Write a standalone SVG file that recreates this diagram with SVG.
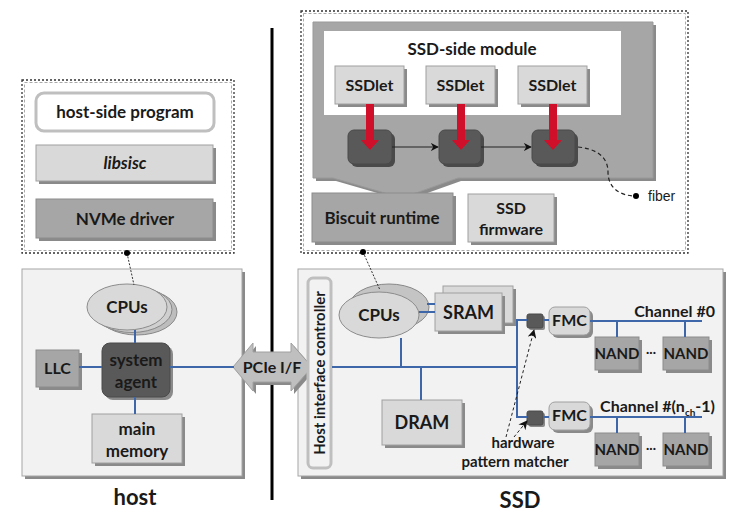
<svg xmlns="http://www.w3.org/2000/svg" width="744" height="520" viewBox="0 0 744 520">
<defs>
<style>
text{font-family:Lato,"Open Sans","Liberation Sans",sans-serif;font-weight:bold;fill:#1a1a1a;text-anchor:middle}
.sh{fill:#8a8a8a}
.lg{fill:#d9d9d9;stroke:#a0a0a0;stroke-width:1}
.mg{fill:#a6a6a6;stroke:#8c8c8c;stroke-width:1}
.dg{fill:#595959;stroke:#4a4a4a;stroke-width:1}
.bl{stroke:#3d67a8;stroke-width:2;fill:none}
.dot{fill:none;stroke:#333;stroke-width:1.3;stroke-dasharray:2 2}
.dot2{fill:none;stroke:#aaa;stroke-width:1;stroke-dasharray:3 2}
</style>
<marker id="ah" viewBox="0 0 10 10" refX="9" refY="5" markerWidth="8" markerHeight="8" orient="auto" markerUnits="userSpaceOnUse">
<path d="M0,0 L10,5 L0,10 L3,5 z" fill="#111"/>
</marker>
<marker id="ah2" viewBox="0 0 10 10" refX="9" refY="5" markerWidth="9" markerHeight="9" orient="auto" markerUnits="userSpaceOnUse">
<path d="M0,0 L10,5 L0,10 L3,5 z" fill="#111"/>
</marker>
</defs>
<rect width="744" height="520" fill="#fff"/>

<!-- divider -->
<line x1="272" y1="28" x2="272" y2="500" stroke="#000" stroke-width="3"/>

<!-- host-side software stack -->
<g id="host-sw">
<rect x="22" y="80" width="212" height="173" class="dot"/>
<rect x="24.5" y="82.5" width="207" height="168" class="dot2"/>
</g>
<g id="host-side-program">
<rect x="36" y="93" width="178" height="38" rx="8" fill="#fff" stroke="#bfbfbf" stroke-width="3"/>
<text x="125" y="118" font-size="17">host-side program</text>
</g>
<g id="libsisc">
<rect x="39" y="148" width="177" height="36" class="sh"/>
<rect x="36" y="145" width="177" height="36" class="lg"/>
<text x="125" y="169" font-size="17" font-style="italic" fill="#333">libsisc</text>
</g>
<g id="nvme-driver">
<rect x="39" y="202" width="177" height="39" class="sh"/>
<rect x="36" y="199" width="177" height="39" class="mg"/>
<text x="125" y="225" font-size="17">NVMe driver</text>
</g>

<!-- host box -->
<g id="host">
<rect x="25" y="272" width="220" height="207" class="sh"/>
<rect x="22" y="269" width="220" height="207" fill="#f2f2f2" stroke="#a6a6a6"/>
<text x="135" y="505" font-size="22">host</text>
</g>

<!-- SSD box -->
<g id="ssd">
<rect x="301" y="272" width="425" height="207" class="sh"/>
<rect x="298" y="269" width="425" height="207" fill="#f2f2f2" stroke="#a6a6a6"/>
<text x="520" y="508" font-size="22">SSD</text>
</g>

<!-- host nodes -->
<g id="host-cpus">
<ellipse cx="137" cy="312" rx="40" ry="23" fill="#bdbdbd" stroke="#888"/>
<ellipse cx="132" cy="309.5" rx="40" ry="23" fill="#cfcfcf" stroke="#888"/>
<ellipse cx="127" cy="307" rx="40" ry="23" fill="#d9d9d9" stroke="#8c8c8c"/>
<text x="127" y="313" font-size="17">CPUs</text>
</g>
<g id="llc">
<rect x="39" y="353" width="43" height="37" class="sh"/>
<rect x="36" y="350" width="43" height="37" class="mg"/>
<text x="57.5" y="374" font-size="16">LLC</text>
</g>
<g id="system-agent">
<rect x="105" y="346" width="68" height="54" rx="8" class="sh"/>
<rect x="102" y="343" width="68" height="54" rx="8" class="dg"/>
<text x="136" y="366" font-size="17" fill="#a6a6a6">system</text>
<text x="136" y="388" font-size="17" fill="#a6a6a6">agent</text>
</g>
<g id="main-memory">
<rect x="95" y="417" width="90" height="49" class="sh"/>
<rect x="92" y="414" width="90" height="49" class="lg"/>
<text x="137" y="435" font-size="17">main</text>
<text x="137" y="457" font-size="17">memory</text>
</g>

<!-- PCIe -->
<g id="pcie">
<polygon points="236,370 256,346 256,355 294,355 294,346 315,370 294,394 294,385 256,385 256,394" fill="#8a8a8a"/>
<polygon points="233,367 253,343 253,352 291,352 291,343 312,367 291,391 291,382 253,382 253,391" fill="#bfbfbf" stroke="#a0a0a0"/>
<text x="272" y="373" font-size="16" fill="#333">PCIe I/F</text>
</g>

<!-- SSD-side software -->
<g id="ssd-sw">
<rect x="301" y="11" width="387" height="242" class="dot"/>
<rect x="303.5" y="13.5" width="382" height="237" class="dot2"/>
</g>
<g id="ssd-side-module">
<polygon points="316,25 656,25 656,181 461,181 405,201 336,181 316,181" fill="#8a8a8a"/>
<polygon points="313,22 653,22 653,178 458,178 402,198 333,178 313,178" fill="#a6a6a6" stroke="#999"/>
<rect x="324" y="31" width="297" height="84" fill="#fff"/>
<text x="472" y="55" font-size="17">SSD-side module</text>
</g>
<g id="ssdlet1">
<rect x="338" y="69" width="69" height="38" class="sh"/>
<rect x="335" y="66" width="69" height="38" class="lg"/>
<text x="369.5" y="91" font-size="16">SSDlet</text>
</g>
<g id="ssdlet2">
<rect x="429" y="69" width="69" height="38" class="sh"/>
<rect x="426" y="66" width="69" height="38" class="lg"/>
<text x="460.5" y="91" font-size="16">SSDlet</text>
</g>
<g id="ssdlet3">
<rect x="521" y="69" width="69" height="38" class="sh"/>
<rect x="518" y="66" width="69" height="38" class="lg"/>
<text x="552.5" y="91" font-size="16">SSDlet</text>
</g>
<g id="fiber1">
<rect x="351" y="133" width="44" height="34" rx="6" fill="#4a4a4a"/>
<rect x="348" y="130" width="44" height="34" rx="6" class="dg"/>
<polygon points="366,104 374,104 374,140 379,140 370,150 361,140 366,140" fill="#d0102a"/>
</g>
<g id="fiber2">
<rect x="442" y="133" width="42" height="34" rx="6" fill="#4a4a4a"/>
<rect x="439" y="130" width="42" height="34" rx="6" class="dg"/>
<polygon points="457,104 465,104 465,140 470,140 461,150 452,140 457,140" fill="#d0102a"/>
</g>
<g id="fiber3">
<rect x="535" y="133" width="43" height="34" rx="6" fill="#4a4a4a"/>
<rect x="532" y="130" width="43" height="34" rx="6" class="dg"/>
<polygon points="549,104 557,104 557,140 562,140 553,150 544,140 549,140" fill="#d0102a"/>
</g>
<g id="fiber-label">
<text x="648" y="201" font-size="14" style="font-family:'Liberation Sans',Arial,sans-serif;text-anchor:start;font-weight:normal">fiber</text>
</g>
<g id="biscuit-runtime">
<rect x="315" y="196" width="141" height="49" class="sh"/>
<rect x="312" y="193" width="141" height="49" class="mg"/>
<text x="382" y="224" font-size="17">Biscuit runtime</text>
</g>
<g id="ssd-firmware">
<rect x="471" y="197" width="86" height="48" class="sh"/>
<rect x="468" y="194" width="86" height="48" class="lg"/>
<text x="511" y="214" font-size="16">SSD</text>
<text x="511" y="235" font-size="16">firmware</text>
</g>

<!-- SSD hardware -->
<g id="host-interface-controller">
<rect x="308" y="278" width="23" height="190" rx="5" fill="#f2f2f2" stroke="#bfbfbf" stroke-width="3"/>
<text transform="translate(325,373) rotate(-90)" font-size="15">Host interface controller</text>
</g>
<g id="ssd-cpus">
<ellipse cx="389" cy="307" rx="40" ry="23" fill="#c4c4c4" stroke="#888"/>
<ellipse cx="379" cy="315" rx="40" ry="23" fill="#d9d9d9" stroke="#8c8c8c"/>
<text x="379" y="321" font-size="17">CPUs</text>
</g>
<g id="sram">
<rect x="446" y="289" width="70" height="37" class="sh"/>
<rect x="443" y="286" width="70" height="37" class="lg"/>
<rect x="438" y="296" width="67" height="38" class="sh"/>
<rect x="435" y="293" width="67" height="38" class="lg"/>
<text x="468.5" y="319" font-size="18">SRAM</text>
</g>
<g id="dram">
<rect x="385" y="403" width="80" height="45" class="sh"/>
<rect x="382" y="400" width="80" height="45" class="lg"/>
<text x="422" y="429" font-size="18">DRAM</text>
</g>
<g id="hpm1">
<rect x="529" y="316" width="16" height="14" rx="2" fill="#8a8a8a"/>
<rect x="527" y="314" width="16" height="14" rx="2" class="dg"/>
</g>
<g id="hpm2">
<rect x="529" y="413" width="16" height="14" rx="2" fill="#8a8a8a"/>
<rect x="527" y="411" width="16" height="14" rx="2" class="dg"/>
</g>
<g id="hpm-label">
<text x="523" y="448" font-size="15">hardware</text>
<text x="515" y="467" font-size="15">pattern matcher</text>
</g>
<g id="fmc1">
<rect x="552" y="310" width="41" height="28" rx="6" class="sh"/>
<rect x="549" y="307" width="41" height="28" rx="6" class="lg"/>
<text x="569.5" y="326" font-size="16">FMC</text>
</g>
<g id="fmc2">
<rect x="552" y="405" width="41" height="28" rx="6" class="sh"/>
<rect x="549" y="402" width="41" height="28" rx="6" class="lg"/>
<text x="569.5" y="421" font-size="16">FMC</text>
</g>
<g id="channel-labels">
<text x="715" y="317" font-size="16" style="text-anchor:end">Channel #0</text>
<text x="715" y="412" font-size="16" style="text-anchor:end">Channel #(n<tspan font-size="10" dy="4">ch</tspan><tspan dy="-4">-1)</tspan></text>
</g>
<g id="nand-0a">
<rect x="598" y="340" width="44" height="33" class="sh"/>
<rect x="595" y="337" width="44" height="33" class="mg"/>
<text x="617" y="359" font-size="15">NAND</text>
</g>
<g id="nand-0b">
<rect x="666" y="340" width="46" height="33" class="sh"/>
<rect x="663" y="337" width="46" height="33" class="mg"/>
<text x="686" y="359" font-size="15">NAND</text>
</g>
<g id="nand-1a">
<rect x="598" y="436" width="44" height="33" class="sh"/>
<rect x="595" y="433" width="44" height="33" class="mg"/>
<text x="617" y="455" font-size="15">NAND</text>
</g>
<g id="nand-1b">
<rect x="666" y="436" width="46" height="33" class="sh"/>
<rect x="663" y="433" width="46" height="33" class="mg"/>
<text x="686" y="455" font-size="15">NAND</text>
</g>
<g id="ellipses">
<text x="651" y="356" font-size="12">···</text>
<text x="651" y="452" font-size="12">···</text>
</g>

<!-- connectors -->
<g id="connectors">
<line x1="135" y1="330" x2="135" y2="343" class="bl"/>
<line x1="135" y1="397" x2="135" y2="414" class="bl"/>
<line x1="79" y1="367" x2="102" y2="367" class="bl"/>
<line x1="170" y1="367" x2="234" y2="367" class="bl"/>
<line x1="332" y1="367" x2="518" y2="367" class="bl"/>
<line x1="401" y1="338" x2="401" y2="367" class="bl"/>
<line x1="421" y1="367" x2="421" y2="400" class="bl"/>
<line x1="419" y1="312" x2="435" y2="312" class="bl"/>
<line x1="427" y1="304" x2="435" y2="304" class="bl"/>
<polyline points="527,320 517,320 517,417 527,417" class="bl"/>
<line x1="543" y1="320" x2="549" y2="320" class="bl"/>
<line x1="543" y1="417" x2="549" y2="417" class="bl"/>
<line x1="590" y1="321" x2="702" y2="321" class="bl"/>
<line x1="617" y1="321" x2="617" y2="337" class="bl"/>
<line x1="685" y1="321" x2="685" y2="337" class="bl"/>
<line x1="590" y1="417" x2="702" y2="417" class="bl"/>
<line x1="617" y1="417" x2="617" y2="433" class="bl"/>
<line x1="685" y1="417" x2="685" y2="433" class="bl"/>
<line x1="127" y1="253" x2="134" y2="285" stroke="#333" stroke-width="1" stroke-dasharray="2 1.5"/>
<circle cx="127" cy="253" r="3" fill="#000"/>
<line x1="363" y1="252" x2="380" y2="290" stroke="#333" stroke-width="1" stroke-dasharray="2 1.5"/>
<circle cx="363" cy="252" r="3" fill="#000"/>
<line x1="392" y1="147" x2="438" y2="147" stroke="#222" stroke-width="1.2" marker-end="url(#ah)"/>
<line x1="481" y1="147" x2="531" y2="147" stroke="#222" stroke-width="1.2" marker-end="url(#ah)"/>
<path d="M578,147 C598,149 608,158 608,172 C608,188 620,196 636,196" fill="none" stroke="#222" stroke-width="1.2" stroke-dasharray="4 3"/>
<circle cx="636" cy="196" r="3" fill="#000"/>
<line x1="506" y1="437" x2="534" y2="330" stroke="#222" stroke-width="1" stroke-dasharray="3 2.5" marker-end="url(#ah2)"/>
<line x1="514" y1="437" x2="527" y2="421" stroke="#222" stroke-width="1" stroke-dasharray="3 2.5" marker-end="url(#ah2)"/>
</g>
</svg>
